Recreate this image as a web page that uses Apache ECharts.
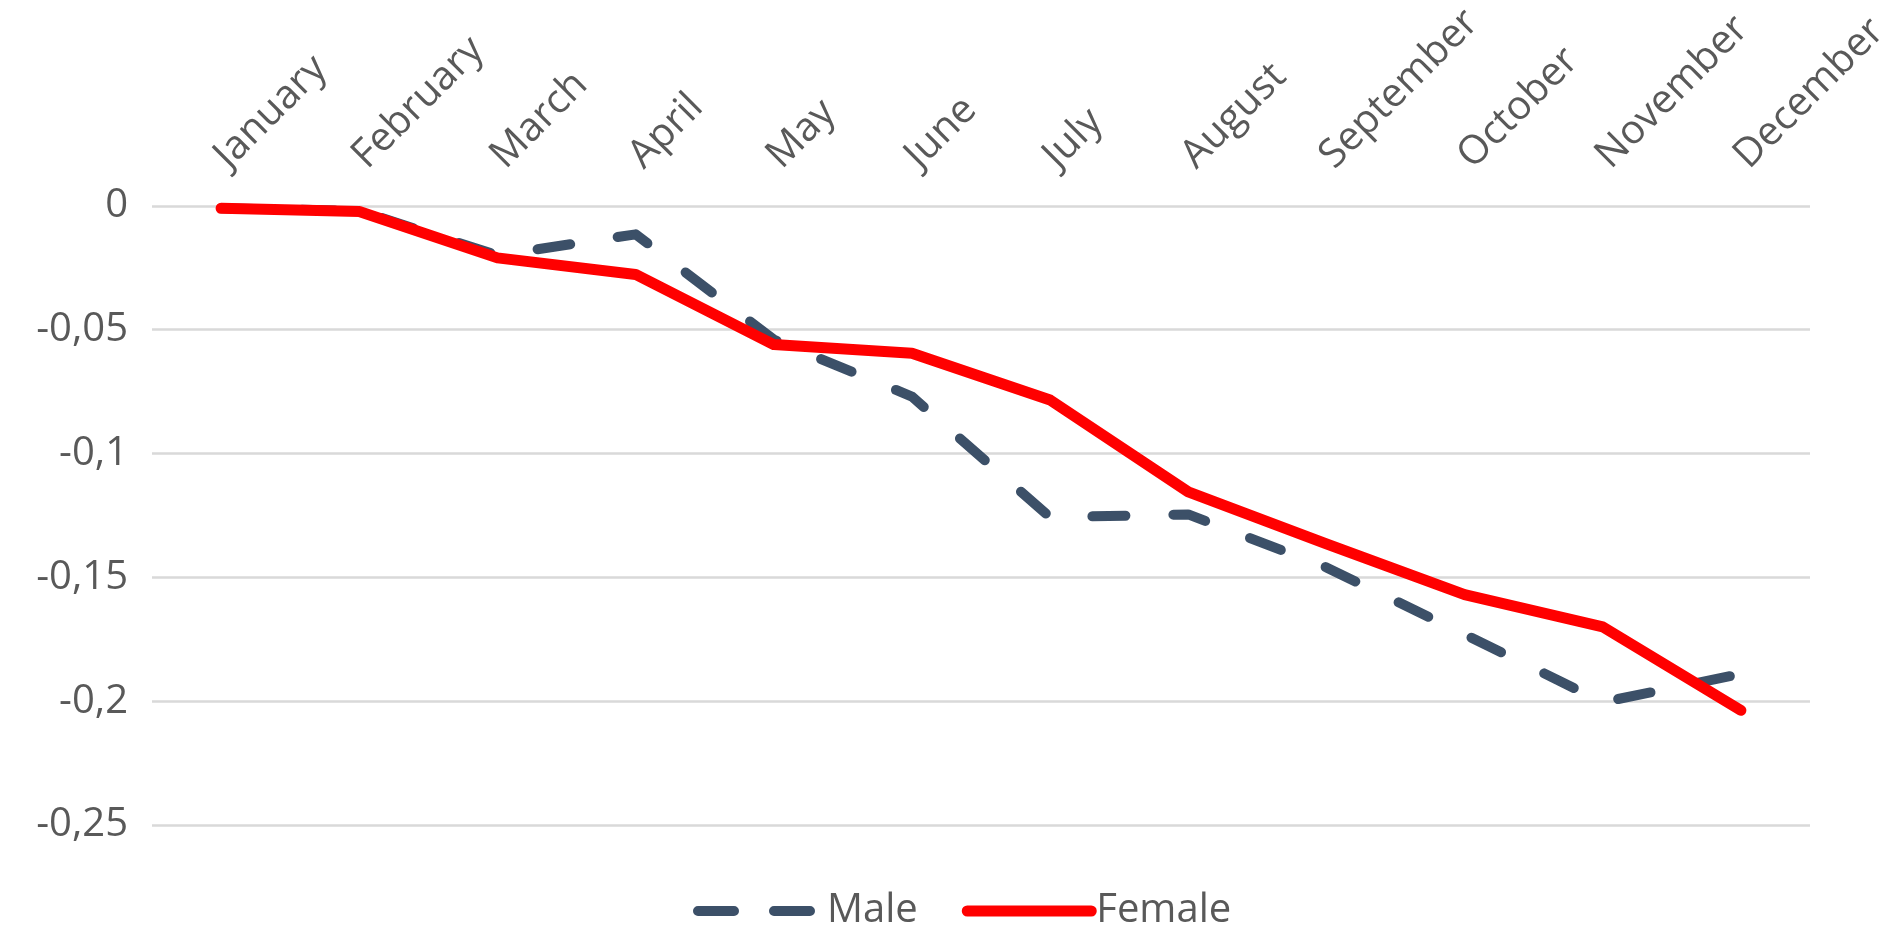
<!DOCTYPE html>
<html>
<head>
<meta charset="utf-8">
<style>
html,body{margin:0;padding:0;background:#fff;}
#chart{width:1895px;height:936px;}
</style>
<script src="https://cdn.jsdelivr.net/npm/echarts@6/dist/echarts.min.js"></script>
</head>
<body>
<div id="chart"></div>
<script>
const months = ['January','February','March','April','May','June','July','August','September','October','November','December'];
const maleValues = [-0.001, -0.002, -0.020, -0.0115, -0.054, -0.077, -0.1257, -0.1246, -0.146, -0.173, -0.2004, -0.189];
const femaleValues = [-0.001, -0.0023, -0.021, -0.0277, -0.056, -0.0595, -0.0784, -0.1155, -0.1365, -0.157, -0.170, -0.2037];
const seriesNames = ['Male', 'Female'];

const FONT = '"Open Sans", sans-serif';
const chart = echarts.init(document.getElementById('chart'));
chart.setOption({
  backgroundColor: '#ffffff',
  animation: false,
  grid: { left: 152, right: 85, top: 203, height: 622, containLabel: false },
  legend: {
    left: 688,
    top: 886,
    itemWidth: 124,
    itemHeight: 14,
    itemGap: 44,
    textStyle: { color: '#595959', fontSize: 40, fontFamily: FONT },
    data: [
      { name: seriesNames[0], itemStyle: { opacity: 0 }, lineStyle: { width: 10, type: [36, 40], cap: 'round', color: '#3C5068' } },
      { name: seriesNames[1], itemStyle: { opacity: 0 }, lineStyle: { width: 11, type: 'solid', cap: 'round', color: '#FF0000' } }
    ]
  },
  xAxis: {
    type: 'category',
    position: 'top',
    data: months,
    boundaryGap: true,
    axisLine: { show: false },
    axisTick: { show: false },
    axisLabel: { rotate: 45, margin: 44, color: '#595959', fontSize: 40, fontFamily: FONT, interval: 0 }
  },
  yAxis: {
    type: 'value',
    min: -0.25,
    max: 0,
    interval: 0.05,
    axisLine: { show: false },
    axisTick: { show: false },
    splitLine: { lineStyle: { color: '#d9d9d9', width: 2.5 } },
    axisLabel: {
      margin: 24,
      color: '#595959',
      fontSize: 40,
      fontFamily: FONT,
      formatter: v => String(Math.round(v * 100) / 100).replace('.', ',')
    }
  },
  series: [
    {
      name: seriesNames[0], type: 'line', data: maleValues, symbol: 'none',
      itemStyle: { color: '#3C5068' },
      lineStyle: { color: '#3C5068', width: 10, type: [33, 48], cap: 'round', join: 'round' }
    },
    {
      name: seriesNames[1], type: 'line', data: femaleValues, symbol: 'none',
      itemStyle: { color: '#FF0000' },
      lineStyle: { color: '#FF0000', width: 11, type: 'solid', cap: 'round', join: 'round' }
    }
  ]
});
</script>
</body>
</html>
